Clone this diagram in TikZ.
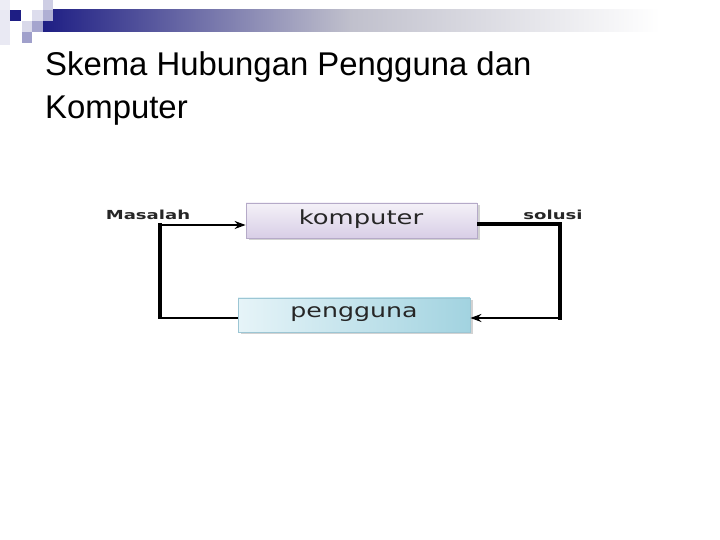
\documentclass[tikz,border=0pt]{standalone}
\usepackage{fontspec}
\setmainfont{Liberation Sans}
\newfontfamily\boxfont{DejaVu Sans}
\usetikzlibrary{shadows,arrows.meta,calc}
\definecolor{navy}{HTML}{1E1E84}
\definecolor{kbordr}{HTML}{B5AAC8}
\definecolor{pbordr}{HTML}{9CC6D4}
\definecolor{pdark}{HTML}{A2D3E0}
\definecolor{plight}{HTML}{E6F4F8}
\definecolor{ktop}{HTML}{F4F1F8}
\definecolor{kbot}{HTML}{D8CEE6}
\tikzset{
  boxstyle/.style={draw, line width=0.8bp, minimum height=35bp, inner sep=0pt,
    drop shadow={shadow xshift=2.5bp, shadow yshift=-2.5bp, opacity=0.35, fill=gray}},
  kbox/.style={boxstyle, draw=kbordr, minimum width=231bp, top color=ktop, bottom color=kbot},
  pbox/.style={boxstyle, draw=pbordr, minimum width=232bp, minimum height=34bp, shading angle=70, left color=plight, right color=pdark},
  boxtext/.style={font=\boxfont\fontsize{19.5}{22}\selectfont, text=black!85},
  lbl/.style={font=\boxfont\bfseries\fontsize{12.5}{14}\selectfont, text=black!85},
  thinln/.style={line width=1.6bp},
  thickln/.style={line width=3.6bp},
  tip/.style={-{Stealth[length=11bp,width=8bp]}},
  ttl/.style={font=\fontsize{33}{38}\selectfont, anchor=base west, inner sep=0pt}
}
\begin{document}
\begin{tikzpicture}[x=1bp,y=1bp]
\useasboundingbox (0,0) rectangle (720,540);
\fill[white] (0,0) rectangle (720,540);
% header bar
\shade[left color=navy, right color=white, middle color=navy!30!gray!40] (43,530) rectangle (660,508);
\shade[left color=white, right color=white] (660,530) rectangle (720,508);
% squares
\fill[navy!8] (0,540) rectangle (10,530);
\fill[navy!10] (0,530) rectangle (10,495);
\fill[navy] (10,530) rectangle (21,519);
\fill[navy!22] (43,540) rectangle (53,530);
\fill[navy!15] (32,530) rectangle (43,519);
\fill[navy!35] (43,530) rectangle (53,519);
\fill[navy!17] (22,519) rectangle (32,508);
\fill[navy!40] (32,519) rectangle (43,508);
\fill[navy!42] (22,508) rectangle (32,497);
% title
\node[ttl] (title1) at (45,464) {Skema Hubungan Pengguna dan};
\node[ttl] (title2) at (45,421) {Komputer};
% boxes
\node[kbox] (komputer) at (361.5,319.5) {};
\node[boxtext] (ktext) at (361,321) {\scalebox{1.33}[1]{komputer}};
\node[pbox] (pengguna) at (354,225) {};
\node[boxtext] (ptext) at (354,226) {\scalebox{1.3}[1]{pengguna}};
% labels
\node[lbl] (masalah) at (148,325) {\scalebox{1.45}[1]{Masalah}};
\node[lbl] (solusi) at (553,325) {\scalebox{1.45}[1]{solusi}};
% connectors
\coordinate (ltop) at (160,315);
\coordinate (lbot) at (160,222);
\coordinate (rtop) at (560,316);
\coordinate (rbot) at (560,222);
\draw[thinln] (lbot -| pengguna.west) -- ([xshift=-0.8bp]lbot);
\draw[thickln] ([yshift=-0.8bp]lbot) -- ([yshift=1.8bp]ltop);
\draw[thinln, tip] (ltop) -- (ltop -| komputer.west);
\draw[thickln] (rtop -| komputer.east) -- ([xshift=1.8bp]rtop);
\draw[thickln] ([yshift=1.8bp]rtop) -- ([yshift=-1.8bp]rbot);
\draw[thickln, line width=2.4bp, tip] ([xshift=1.8bp]rbot) -- (rbot -| pengguna.east);
\end{tikzpicture}
\end{document}
